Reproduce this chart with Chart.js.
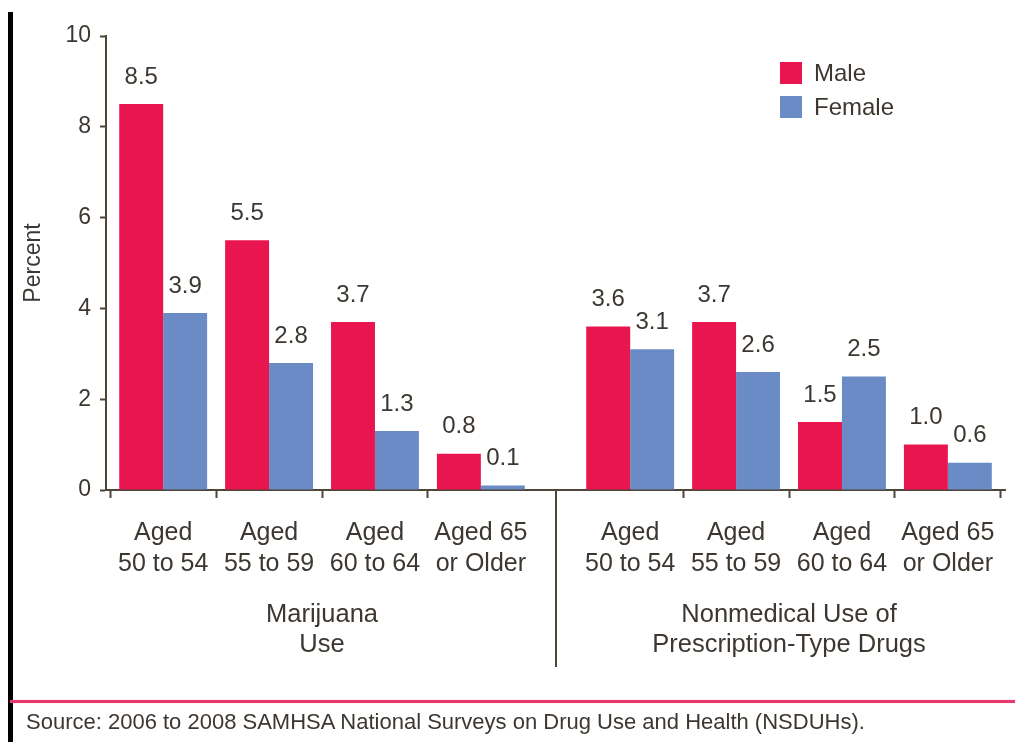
<!DOCTYPE html>
<html>
<head>
<meta charset="utf-8">
<script src="https://cdn.jsdelivr.net/npm/chart.js@4.4.1/dist/chart.umd.min.js"></script>
<style>
  html, body { margin: 0; padding: 0; background: #ffffff; }
  #wrap { position: relative; width: 1015px; height: 742px; overflow: hidden; }
  #chart { position: absolute; left: 0; top: 0; }
  #leftBar { position: absolute; left: 8px; top: 12px; width: 5px; height: 730px; background: #000; }
  #rule { position: absolute; left: 10px; top: 700px; width: 1005px; height: 3px; background: #e8386c; box-shadow: 0 0 1px #f08aa8; }
  #source { position: absolute; left: 26px; top: 709px; font-family: "Liberation Sans", Arial, sans-serif; font-size: 22px; line-height: 26px; color: #3d3731; white-space: nowrap; }
</style>
</head>
<body>
<div id="wrap">
  <canvas id="chart" width="1015" height="742"></canvas>
  <div id="leftBar"></div>
  <div id="rule"></div>
  <div id="source">Source: 2006 to 2008 SAMHSA National Surveys on Drug Use and Health (NSDUHs).</div>
</div>
<script>
// ---- data ----
const ageGroups = [["Aged", "50 to 54"], ["Aged", "55 to 59"], ["Aged", "60 to 64"], ["Aged 65", "or Older"]];
const substanceGroups = [["Marijuana", "Use"], ["Nonmedical Use of", "Prescription-Type Drugs"]];
const seriesNames = ["Male", "Female"];
const maleValues = [8.5, 5.5, 3.7, 0.8, 3.6, 3.7, 1.5, 1.0];
const femaleValues = [3.9, 2.8, 1.3, 0.1, 3.1, 2.6, 2.5, 0.6];
const yMax = 10;
const yStep = 2;
const yTitle = "Percent";

// ---- styles ----
const FONT = '"Liberation Sans", Arial, sans-serif';
const TEXT = '#3d3731';
const AXIS = '#4d4538';
const MALE = '#e9154f';
const FEMALE = '#6a8bc6';
const GROUP_GAP = 0.41;   // extra gap (in category widths) between the two substance groups
const EDGE_PAD = 0.04;    // padding at each end of the x axis (in category widths)

const categories = substanceGroups.flatMap(() => ageGroups);
const perGroup = ageGroups.length;

const Base = Chart.CategoryScale || Chart.registry.getScale('category');
class GappedCategoryScale extends Base {
  getPixelForValue(value) {
    if (typeof value !== 'number') value = this.parse(value);
    if (value === null || value === undefined || isNaN(value)) return NaN;
    const n = this.getLabels().length;
    const groupIndex = Math.floor((value + 0.5) / perGroup);
    const pos = EDGE_PAD + value + 0.5 + Math.max(0, Math.min(groupIndex, substanceGroups.length - 1)) * GROUP_GAP;
    const total = n + GROUP_GAP * (substanceGroups.length - 1) + 2 * EDGE_PAD;
    return this.getPixelForDecimal(pos / total);
  }
}
GappedCategoryScale.id = 'gappedCategory';
GappedCategoryScale.defaults = Base.defaults;
Chart.register(GappedCategoryScale);

const decorations = {
  id: 'decorations',
  afterDatasetsDraw(chart) {
    const ctx = chart.ctx;
    const x = chart.scales.x;
    const area = chart.chartArea;
    ctx.save();
    // value labels
    ctx.font = '24px ' + FONT;
    ctx.fillStyle = TEXT;
    ctx.textAlign = 'center';
    ctx.textBaseline = 'middle';
    chart.data.datasets.forEach((ds, di) => {
      const meta = chart.getDatasetMeta(di);
      meta.data.forEach((bar, i) => {
        ctx.fillText(ds.data[i].toFixed(1), bar.x, bar.y - 27);
      });
    });
    // group labels
    ctx.font = '25.5px ' + FONT;
    substanceGroups.forEach((lines, g) => {
      const cx = (x.getPixelForValue(g * perGroup) + x.getPixelForValue(g * perGroup + perGroup - 1)) / 2;
      lines.forEach((line, li) => {
        ctx.fillText(line, cx, area.bottom + 125 + li * 30);
      });
    });
    // divider between groups
    ctx.strokeStyle = AXIS;
    ctx.lineWidth = 2;
    for (let g = 1; g < substanceGroups.length; g++) {
      const dx = Math.round((x.getPixelForValue(g * perGroup - 1) + x.getPixelForValue(g * perGroup)) / 2);
      ctx.beginPath();
      ctx.moveTo(dx, area.bottom);
      ctx.lineTo(dx, area.bottom + 177);
      ctx.stroke();
    }
    // legend
    ctx.textAlign = 'left';
    ctx.font = '24px ' + FONT;
    chart.data.datasets.forEach((ds, di) => {
      const ly = 73 + di * 34;
      ctx.fillStyle = ds.backgroundColor;
      ctx.fillRect(780, ly - 11, 22, 22);
      ctx.fillStyle = TEXT;
      ctx.fillText(ds.label, 814, ly + 1);
    });
    ctx.restore();
  }
};

new Chart(document.getElementById('chart'), {
  type: 'bar',
  data: {
    labels: categories,
    datasets: [
      { label: seriesNames[0], data: maleValues, backgroundColor: MALE },
      { label: seriesNames[1], data: femaleValues, backgroundColor: FEMALE }
    ]
  },
  options: {
    responsive: false,
    animation: false,
    events: [],
    layout: { padding: { top: 36, left: 0, right: 9, bottom: 152 } },
    categoryPercentage: 0.83,
    barPercentage: 1.0,
    plugins: { legend: { display: false }, tooltip: { enabled: false } },
    scales: {
      x: {
        type: 'gappedCategory',
        offset: true,
        afterFit: (s) => { s.height = 100; },
        grid: {
          offset: true,
          drawOnChartArea: false,
          drawTicks: true,
          tickLength: 8,
          tickWidth: 2,
          tickColor: (c) => (c.index !== undefined && c.index > 0 && c.index % perGroup === 0) ? 'rgba(0,0,0,0)' : AXIS
        },
        border: { color: AXIS, width: 2 },
        ticks: {
          autoSkip: false,
          maxRotation: 0,
          minRotation: 0,
          color: TEXT,
          padding: 20,
          font: { family: FONT, size: 25, lineHeight: 1.24 }
        }
      },
      y: {
        min: 0,
        max: yMax,
        afterFit: (s) => { s.width = 106; },
        grid: { drawOnChartArea: false, drawTicks: true, tickLength: 6, tickWidth: 2, tickColor: AXIS },
        border: { color: AXIS, width: 2 },
        ticks: {
          stepSize: yStep,
          color: TEXT,
          padding: 9,
          font: { family: FONT, size: 23 }
        },
        title: {
          display: true,
          text: yTitle,
          color: TEXT,
          padding: { top: 20, bottom: 0 },
          font: { family: FONT, size: 23 }
        }
      }
    }
  },
  plugins: [decorations]
});
</script>
</body>
</html>
